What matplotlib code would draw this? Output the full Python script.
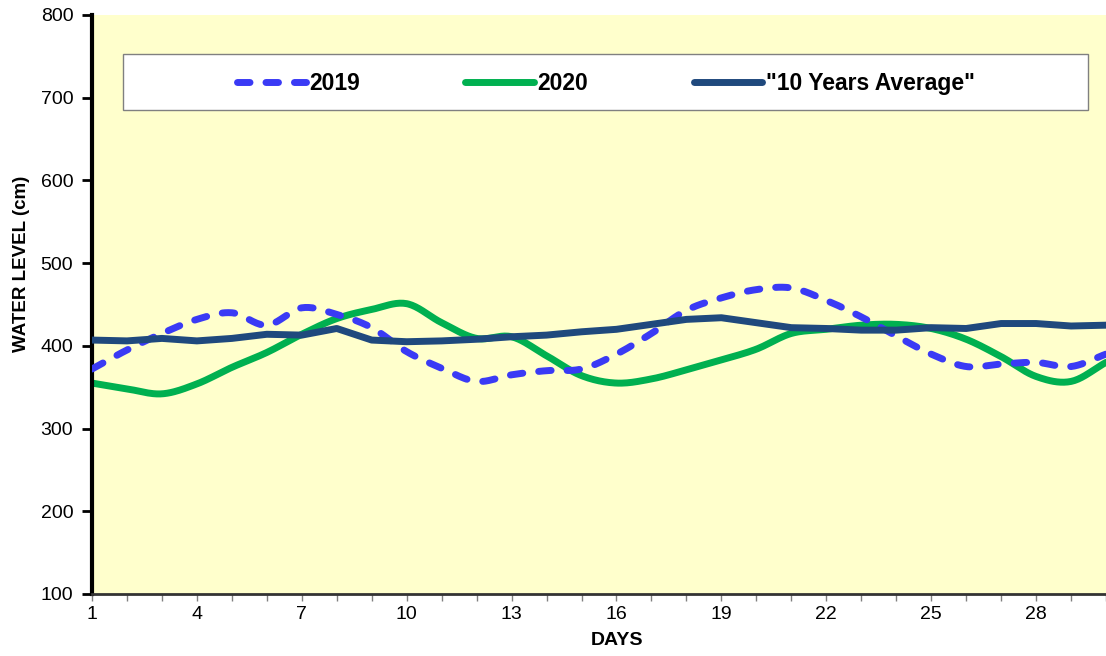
import numpy as np
import matplotlib.pyplot as plt
from matplotlib.patches import Rectangle

# Daily water levels (cm)
days = list(range(1, 31))
level_2019 = [372, 395, 415, 432, 440, 425, 446, 438, 422, 393,
              373, 357, 365, 370, 372, 390, 415, 443, 458, 468,
              470, 455, 435, 412, 390, 375, 378, 380, 375, 390]
level_2020 = [355, 348, 342, 354, 374, 392, 414, 433, 444, 451,
              428, 409, 411, 388, 364, 355, 360, 371, 383, 396,
              415, 420, 425, 426, 421, 408, 387, 363, 357, 380]
level_avg = [407, 406, 409, 406, 409, 414, 413, 421, 407, 405,
             406, 408, 411, 413, 417, 420, 426, 432, 434, 428,
             422, 421, 419, 419, 422, 421, 427, 427, 424, 425]

x_ticks = [1, 4, 7, 10, 13, 16, 19, 22, 25, 28]
y_ticks = [100, 200, 300, 400, 500, 600, 700, 800]


def smooth(x, y, n=20):
    # Catmull-Rom curve through the points (like Excel's smoothed line)
    x = np.asarray(x, float)
    y = np.asarray(y, float)
    px = np.concatenate([[2 * x[0] - x[1]], x, [2 * x[-1] - x[-2]]])
    py = np.concatenate([[2 * y[0] - y[1]], y, [2 * y[-1] - y[-2]]])
    t = np.linspace(0, 1, n, endpoint=False)
    xs, ys = [], []
    for i in range(1, len(px) - 2):
        for p, out in ((px, xs), (py, ys)):
            p0, p1, p2, p3 = p[i - 1], p[i], p[i + 1], p[i + 2]
            out.extend(0.5 * (2 * p1 + (-p0 + p2) * t
                              + (2 * p0 - 5 * p1 + 4 * p2 - p3) * t ** 2
                              + (-p0 + 3 * p1 - 3 * p2 + p3) * t ** 3))
    xs.append(x[-1])
    ys.append(y[-1])
    return np.array(xs), np.array(ys)


plt.rcParams['font.family'] = ['Liberation Sans', 'DejaVu Sans']

fig = plt.figure(figsize=(11.06, 6.56), dpi=100)
ax = fig.add_axes([92 / 1106, 62 / 656, 1014 / 1106, 579 / 656])
ax.set_facecolor('#FFFFCC')

sx, sy = smooth(days, level_2019)
ax.plot(sx, sy, color='#3A3AF5', lw=5, ls=(0, (1.8, 2.3)),
        dash_capstyle='round', label='2019', zorder=3)
sx, sy = smooth(days, level_2020)
ax.plot(sx, sy, color='#00B050', lw=5, solid_capstyle='round',
        label='2020', zorder=2)
ax.plot(days, level_avg, color='#1F497D', lw=5, solid_capstyle='round',
        label='"10 Years Average"', zorder=4)

ax.set_xlim(1, 30)
ax.set_ylim(100, 800)
ax.set_xticks(x_ticks)
ax.set_xticks(days, minor=True)
ax.set_yticks(y_ticks)
ax.tick_params(axis='both', labelsize=14, direction='out')
ax.tick_params(axis='y', length=7, width=2, pad=6.5)
ax.tick_params(axis='x', which='both', length=5, width=1, color='#808080')

for side in ['top', 'right']:
    ax.spines[side].set_visible(False)
ax.spines['left'].set_linewidth(3)
ax.spines['bottom'].set_linewidth(2)
ax.spines['bottom'].set_color('#333333')

ax.set_xlabel('DAYS', fontsize=14, fontweight='bold')
ax.set_ylabel('WATER LEVEL (cm)', fontsize=13.5, fontweight='bold')
ax.xaxis.set_label_coords(0.518, -0.066)
ax.yaxis.set_label_coords(-0.061, 0.57)

# Legend box
ax.add_patch(Rectangle((0.0306, 0.836), 0.952, 0.0967, transform=ax.transAxes,
                       facecolor='white', edgecolor='#808080', lw=1, zorder=5))
leg = ax.legend(loc='center', bbox_to_anchor=(0.5066, 0.881), ncol=3,
                frameon=False, handlelength=3.0, handletextpad=0.15,
                columnspacing=4.6, prop={'size': 16.5, 'weight': 'bold'})
leg.set_zorder(6)

fig.savefig('out.png', dpi=100)
